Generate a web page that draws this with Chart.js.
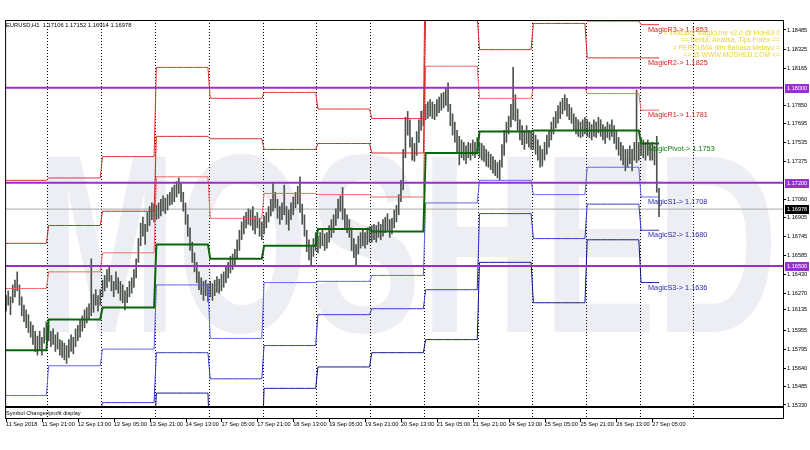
<!DOCTYPE html>
<html>
<head>
<meta charset="utf-8">
<script src="https://cdn.jsdelivr.net/npm/chart.js@4.4.1/dist/chart.umd.min.js"></script>
<style>
  html, body { margin: 0; padding: 0; background: #fff; }
</style>
</head>
<body>
<canvas id="chart" width="810" height="450"></canvas>
<script>
// EURUSD H1, one bar per hour from 11 Sep 2018 05:00 to 27 Sep 2018 08:00 (weekends skipped)
const dayStart = [0, 19, 43, 67, 91, 115, 139, 163, 187, 211, 235, 259, 283];
const daySep = [19, 43, 67, 91, 115, 139, 163, 187, 211, 235, 259, 283, 307];

const highs = [
  // 11 Sep
  1.1625,1.1629,1.1624,1.1634,1.1638,1.1645,1.1634,1.1624,1.1617,1.1613,1.1609,1.1603,1.1600,1.1595,1.1591,1.1595,1.1590,1.1598,1.1603,
  // 12 Sep
  1.1600,1.1595,1.1597,1.1592,1.1594,1.1588,1.1587,1.1585,1.1583,1.1588,1.1592,1.1590,1.1597,1.1600,1.1605,1.1608,1.1613,1.1615,1.1618,1.1656,1.1626,1.1630,1.1625,1.1630,
  // 13 Sep
  1.1638,1.1642,1.1647,1.1650,1.1642,1.1637,1.1645,1.1640,1.1637,1.1634,1.1629,1.1632,1.1637,1.1640,1.1647,1.1656,1.1673,1.1686,1.1691,1.1685,1.1695,1.1700,1.1703,1.1702,
  // 14 Sep
  1.1701,1.1703,1.1706,1.1709,1.1707,1.1710,1.1712,1.1716,1.1718,1.1721,1.1724,1.1719,1.1712,1.1703,1.1693,1.1682,1.1670,1.1661,1.1653,1.1645,1.1640,1.1637,1.1638,1.1635,
  // 17 Sep
  1.1637,1.1635,1.1638,1.1641,1.1639,1.1643,1.1645,1.1649,1.1653,1.1658,1.1660,1.1664,1.1672,1.1680,1.1687,1.1692,1.1695,1.1698,1.1697,1.1700,1.1692,1.1695,1.1690,1.1687,
  // 18 Sep
  1.1692,1.1695,1.1700,1.1706,1.1720,1.1712,1.1706,1.1700,1.1703,1.1718,1.1700,1.1697,1.1703,1.1708,1.1712,1.1717,1.1725,1.1702,1.1693,1.1680,1.1672,1.1666,1.1673,1.1678,
  // 19 Sep
  1.1675,1.1678,1.1680,1.1677,1.1678,1.1684,1.1689,1.1693,1.1698,1.1706,1.1709,1.1716,1.1698,1.1693,1.1689,1.1682,1.1673,1.1668,1.1675,1.1678,1.1680,1.1678,1.1682,1.1683,
  // 20 Sep
  1.1684,1.1685,1.1684,1.1687,1.1685,1.1689,1.1691,1.1694,1.1689,1.1690,1.1697,1.1701,1.1710,1.1722,1.1748,1.1775,1.1780,1.1773,1.1758,1.1753,1.1763,1.1773,1.1780,1.1781,
  // 21 Sep
  1.1786,1.1788,1.1790,1.1788,1.1786,1.1790,1.1792,1.1795,1.1796,1.1800,1.1804,1.1786,1.1778,1.1771,1.1764,1.1759,1.1756,1.1754,1.1751,1.1754,1.1753,1.1756,1.1754,1.1758,
  // 24 Sep
  1.1754,1.1753,1.1751,1.1748,1.1746,1.1744,1.1742,1.1739,1.1737,1.1739,1.1752,1.1764,1.1771,1.1776,1.1786,1.1817,1.1794,1.1782,1.1773,1.1768,1.1764,1.1768,1.1764,1.1763,
  // 25 Sep
  1.1763,1.1760,1.1756,1.1751,1.1748,1.1754,1.1760,1.1764,1.1771,1.1775,1.1780,1.1785,1.1788,1.1791,1.1794,1.1791,1.1786,1.1783,1.1778,1.1775,1.1773,1.1771,1.1773,1.1775,
  // 26 Sep
  1.1773,1.1771,1.1769,1.1773,1.1771,1.1775,1.1773,1.1769,1.1767,1.1771,1.1769,1.1773,1.1768,1.1763,1.1758,1.1754,1.1751,1.1748,1.1748,1.1751,1.1748,1.1754,1.1798,1.1754,
  // 27 Sep
  1.1758,1.1756,1.1754,1.1756,1.1753,1.1754,1.1751,1.1759,1.17152
];

const lows = [
  // 11 Sep
  1.1612,1.1617,1.1609,1.1619,1.1624,1.1629,1.1617,1.1608,1.1603,1.1598,1.1594,1.1590,1.1584,1.1578,1.1575,1.1580,1.1575,1.1585,1.1588,
  // 12 Sep
  1.1587,1.1582,1.1584,1.1578,1.1580,1.1575,1.1573,1.1571,1.1568,1.1573,1.1578,1.1576,1.1582,1.1587,1.1590,1.1595,1.1598,1.1602,1.1605,1.1608,1.1611,1.1617,1.1612,1.1617,
  // 13 Sep
  1.1624,1.1629,1.1632,1.1637,1.1629,1.1624,1.1630,1.1627,1.1621,1.1619,1.1613,1.1619,1.1624,1.1627,1.1632,1.1640,1.1653,1.1667,1.1675,1.1668,1.1679,1.1684,1.1689,1.1687,
  // 14 Sep
  1.1689,1.1690,1.1692,1.1696,1.1694,1.1697,1.1701,1.1702,1.1704,1.1708,1.1711,1.1704,1.1696,1.1685,1.1675,1.1663,1.1653,1.1645,1.1636,1.1630,1.1626,1.1621,1.1625,1.1620,
  // 17 Sep
  1.1624,1.1621,1.1625,1.1628,1.1627,1.1629,1.1632,1.1636,1.1640,1.1644,1.1647,1.1651,1.1657,1.1663,1.1672,1.1677,1.1682,1.1685,1.1684,1.1680,1.1677,1.1682,1.1675,1.1672,
  // 18 Sep
  1.1677,1.1682,1.1687,1.1692,1.1696,1.1699,1.1690,1.1685,1.1689,1.1693,1.1685,1.1680,1.1689,1.1693,1.1699,1.1702,1.1695,1.1685,1.1675,1.1662,1.1655,1.1651,1.1658,1.1663,
  // 19 Sep
  1.1661,1.1665,1.1667,1.1663,1.1665,1.1670,1.1674,1.1678,1.1684,1.1690,1.1696,1.1689,1.1682,1.1678,1.1674,1.1663,1.1657,1.1651,1.1660,1.1665,1.1667,1.1665,1.1668,1.1670,
  // 20 Sep
  1.1670,1.1672,1.1670,1.1674,1.1672,1.1675,1.1678,1.1680,1.1674,1.1677,1.1682,1.1687,1.1693,1.1704,1.1714,1.1741,1.1760,1.1750,1.1739,1.1738,1.1743,1.1754,1.1764,1.1768,
  // 21 Sep
  1.1773,1.1774,1.1776,1.1774,1.1773,1.1776,1.1779,1.1781,1.1783,1.1785,1.1780,1.1768,1.1760,1.1754,1.1746,1.1735,1.1741,1.1739,1.1736,1.1741,1.1739,1.1743,1.1741,1.1744,
  // 24 Sep
  1.1741,1.1739,1.1738,1.1734,1.1733,1.1731,1.1728,1.1726,1.1724,1.1722,1.1733,1.1743,1.1754,1.1761,1.1767,1.1773,1.1772,1.1764,1.1756,1.1752,1.1748,1.1753,1.1750,1.1748,
  // 25 Sep
  1.1748,1.1744,1.1739,1.1733,1.1734,1.1739,1.1744,1.1750,1.1756,1.1761,1.1766,1.1770,1.1774,1.1778,1.1781,1.1776,1.1773,1.1770,1.1764,1.1761,1.1759,1.1758,1.1759,1.1761,
  // 26 Sep
  1.1759,1.1758,1.1756,1.1759,1.1758,1.1762,1.1759,1.1756,1.1753,1.1758,1.1756,1.1759,1.1753,1.1748,1.1743,1.1739,1.1735,1.1730,1.1733,1.1736,1.1730,1.1739,1.1737,1.1739,
  // 27 Sep
  1.1743,1.1741,1.1739,1.1743,1.1739,1.1739,1.1735,1.1712,1.16914
];

// daily pivot levels: 11,12,13,14,17,18,19,20,21,24,25,26,27 Sep
const levelR3 = [1.1722,1.1724,1.1742,1.1817,1.1791,1.1796,1.1782,1.1774,1.1934,1.1859,1.1891,1.1856,1.1853];
const levelR2 = [1.1669,1.1684,1.1696,1.1759,1.1757,1.1748,1.1753,1.1745,1.1860,1.1832,1.1854,1.1825,1.1825];
const levelR1 = [1.1631,1.1645,1.1661,1.1725,1.1690,1.1711,1.1710,1.1708,1.1818,1.1791,1.1800,1.1795,1.1781];
const levelP  = [1.1579,1.1605,1.1615,1.1668,1.1656,1.1667,1.1681,1.1679,1.1745,1.1763,1.1764,1.1764,1.1753];
const levelS1 = [1.1541,1.1566,1.1580,1.1634,1.1589,1.1636,1.1637,1.1642,1.1703,1.1722,1.1710,1.1733,1.1708];
const levelS2 = [1.1489,1.1526,1.1535,1.1577,1.1555,1.1583,1.1609,1.1614,1.1630,1.1694,1.1673,1.1702,1.1680];
const levelS3 = [1.1451,1.1487,1.1499,1.1543,1.1488,1.1547,1.1565,1.1577,1.1588,1.1653,1.1619,1.1672,1.1636];

const hLines = [1.18000, 1.17200, 1.16500];
const bidPrice = 1.16978;
const titleText = 'EURUSD,H1  1.17106 1.17152 1.16914 1.16978';

const xTickBars = [0,16,32,48,64,80,96,112,128,144,160,176,192,208,224,240,256,272,288];
const xTickLabels = ['11 Sep 2018','11 Sep 21:00','12 Sep 13:00','13 Sep 05:00','13 Sep 21:00','14 Sep 13:00',
  '17 Sep 05:00','17 Sep 21:00','18 Sep 13:00','19 Sep 05:00','19 Sep 21:00','20 Sep 13:00','21 Sep 05:00',
  '21 Sep 21:00','24 Sep 13:00','25 Sep 05:00','25 Sep 21:00','26 Sep 13:00','27 Sep 05:00'];
const yTicks = [1.18485,1.18325,1.18165,1.17850,1.17695,1.17535,1.17375,1.17060,1.16905,1.16745,1.16585,
  1.16430,1.16270,1.16135,1.15955,1.15795,1.15640,1.15485,1.15330];

const infoLines = ['!! Indicator MagicLine v2.0 @ MoHDi !!', '== Berita, Analisa, Tips Forex ==',
  '= PERCUMA dlm Bahasa Melayu =', '=> @ WWW.MOSHED.COM <='];

const FONT = '"Liberation Sans", Arial, sans-serif';
const X_MIN = -0.4, X_MAX = 346.7;

function dayOf(i) {
  let d = 0;
  while (d + 1 < dayStart.length && i >= dayStart[d + 1]) d++;
  return d;
}

const levels = [
  { name: 'MagicR3', values: levelR3, color: '#e23030', text: '#d42020', width: 1 },
  { name: 'MagicR2', values: levelR2, color: '#d02828', text: '#d42020', width: 1 },
  { name: 'MagicR1', values: levelR1, color: '#ee6464', text: '#d42020', width: 1 },
  { name: 'MagicPivot', values: levelP, color: '#0b650b', text: '#108010', width: 2 },
  { name: 'MagicS1', values: levelS1, color: '#6060e4', text: '#2a2aa8', width: 1 },
  { name: 'MagicS2', values: levelS2, color: '#3434c8', text: '#2a2aa8', width: 1 },
  { name: 'MagicS3', values: levelS3, color: '#12128c', text: '#2a2aa8', width: 1 },
];

const datasets = [];
levels.forEach(l => {
  datasets.push({
    type: 'line',
    data: highs.map((h, i) => ({ x: i, y: l.values[dayOf(i)] })),
    borderColor: l.color, borderWidth: l.width, pointRadius: 0, tension: 0, order: 1,
  });
});
hLines.forEach(v => {
  datasets.push({
    type: 'line', data: [{ x: X_MIN, y: v }, { x: X_MAX, y: v }],
    borderColor: '#9a2fcf', borderWidth: 2, pointRadius: 0, order: 0,
  });
});
datasets.push({
  type: 'line', data: [{ x: X_MIN, y: bidPrice }, { x: X_MAX, y: bidPrice }],
  borderColor: '#a8a8a8', borderWidth: 1, pointRadius: 0, order: 3,
});
datasets.push({
  type: 'bar',
  data: highs.map((h, i) => ({ x: i, y: [lows[i], h] })),
  backgroundColor: '#4c534c', barThickness: 1, grouped: false, order: 2,
});

const mt4 = {
  id: 'mt4',
  beforeDatasetsDraw(chart) {
    const { ctx, chartArea: a, scales: { x } } = chart;
    // watermark
    ctx.save();
    ctx.beginPath();
    ctx.rect(a.left, a.top, a.right - a.left, a.bottom - a.top);
    ctx.clip();
    ctx.font = 'bold 200px ' + FONT;
    const w = ctx.measureText('MOSHED').width;
    ctx.translate(36, 332);
    ctx.scale(742 / w, 185 / 145);
    ctx.fillStyle = '#eceef4';
    ctx.textBaseline = 'alphabetic';
    ctx.fillText('MOSHED', 0, 0);
    ctx.restore();
    // day separators
    ctx.save();
    ctx.strokeStyle = '#000';
    ctx.lineWidth = 1;
    ctx.setLineDash([1, 2]);
    daySep.forEach(b => {
      const px = Math.floor(x.getPixelForValue(b)) - 0.5;
      ctx.beginPath();
      ctx.moveTo(px, a.top);
      ctx.lineTo(px, 418);
      ctx.stroke();
    });
    ctx.restore();
  },
  afterDatasetsDraw(chart) {
    const { ctx, scales: { y } } = chart;
    const last = dayStart.length - 1;
    ctx.save();
    ctx.textBaseline = 'middle';
    ctx.textAlign = 'left';
    ctx.font = '7.3px ' + FONT;
    levels.forEach(l => {
      const v = l.values[last];
      ctx.fillStyle = l.text;
      ctx.fillText(l.name + '-> ' + v.toFixed(4), 648, y.getPixelForValue(v) + 5);
    });
    ctx.textAlign = 'right';
    ctx.font = '6.8px ' + FONT;
    ctx.fillStyle = '#e8d430';
    infoLines.forEach((t, k) => ctx.fillText(t, 780, 33 + k * 7.4));
    ctx.textAlign = 'left';
    ctx.fillStyle = '#000';
    ctx.font = '5.8px ' + FONT;
    ctx.fillText(titleText, 6, 25);
    ctx.restore();
  },
  afterDraw(chart) {
    const { ctx, chartArea: a, scales: { x, y } } = chart;
    ctx.save();
    ctx.strokeStyle = '#000';
    ctx.lineWidth = 1;
    ctx.strokeRect(a.left + 0.5, a.top + 0.5, a.right - a.left - 1, 418 - a.top);
    ctx.lineWidth = 2;
    ctx.beginPath();
    ctx.moveTo(a.left, a.bottom);
    ctx.lineTo(a.right, a.bottom);
    ctx.stroke();
    ctx.lineWidth = 1;
    // x tick marks below the sub-window
    xTickBars.forEach(b => {
      const px = Math.round(x.getPixelForValue(b)) + 0.5;
      ctx.beginPath();
      ctx.moveTo(px, 419);
      ctx.lineTo(px, 422);
      ctx.stroke();
    });
    ctx.fillStyle = '#000';
    ctx.font = '5.6px ' + FONT;
    ctx.textBaseline = 'middle';
    ctx.fillText('Symbol Changer/profit display', 6, 413);
    // price boxes on the axis
    const box = (v, bg) => {
      const py = Math.round(y.getPixelForValue(v));
      ctx.fillStyle = bg;
      ctx.fillRect(785, py - 4, 24, 9);
      ctx.fillStyle = '#fff';
      ctx.font = '5.6px ' + FONT;
      ctx.textAlign = 'left';
      ctx.fillText(v.toFixed(5), 787, py + 0.5);
    };
    hLines.forEach(v => box(v, '#9a2fcf'));
    box(bidPrice, '#000');
    ctx.restore();
  }
};

new Chart(document.getElementById('chart'), {
  type: 'bar',
  data: { datasets },
  options: {
    responsive: false,
    animation: false,
    devicePixelRatio: 1,
    layout: { padding: { top: 20, left: 3, right: 0, bottom: 0 } },
    plugins: { legend: { display: false }, tooltip: { enabled: false } },
    scales: {
      x: {
        type: 'linear', min: X_MIN, max: X_MAX, position: 'bottom', offset: false,
        grid: { display: false, offset: false },
        border: { display: false },
        afterBuildTicks: s => { s.ticks = xTickBars.map(v => ({ value: v })); },
        afterFit: s => { s.height = 43; },
        ticks: {
          autoSkip: false, maxRotation: 0, align: 'start', padding: 6,
          color: '#000', font: { family: FONT, size: 5.6 },
          callback: v => xTickLabels[xTickBars.indexOf(v)],
        },
      },
      y: {
        type: 'linear', position: 'right', min: 1.15313, max: 1.18569,
        grid: { drawOnChartArea: false, tickLength: 2, color: '#000' },
        border: { display: false },
        afterBuildTicks: s => { s.ticks = yTicks.map(v => ({ value: v })); },
        afterFit: s => { s.width = 26; },
        ticks: {
          autoSkip: false, padding: 1, color: '#000', font: { family: FONT, size: 5.6 },
          callback: v => v.toFixed(5),
        },
      },
    },
  },
  plugins: [mt4],
});
</script>
</body>
</html>
